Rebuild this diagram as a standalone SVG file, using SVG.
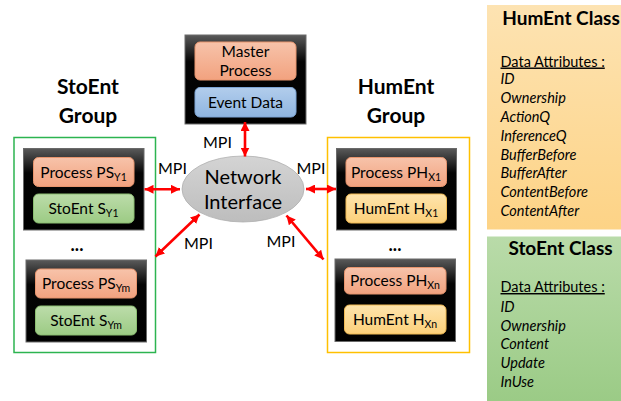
<svg xmlns="http://www.w3.org/2000/svg" width="621" height="401" viewBox="0 0 621 401">
<style>
text{font-family:Lato,"Liberation Sans",sans-serif;fill:#000}
.lbl{font-size:15.5px;text-anchor:middle}
.sub{font-size:10.5px}
.grp{font-size:21px;font-weight:bold;text-anchor:middle}
.mpi{font-size:16px;text-anchor:middle}
.net{font-size:20px;text-anchor:middle}
.ttl{font-size:19px;font-weight:bold;text-anchor:middle}
.hd{font-size:14.5px;text-decoration:underline}
.at{font-size:14.5px;font-style:italic}
.blk{fill:url(#gBlk);stroke:#6a6a6a;stroke-width:1}
.org{fill:url(#gOrg);stroke:#e8956e;stroke-width:1}
.grn{fill:url(#gGrn);stroke:#8cbf72;stroke-width:1}
.blu{fill:url(#gBlu);stroke:#7ea6d6;stroke-width:1}
.yel{fill:url(#gYel);stroke:#f2bb55;stroke-width:1}
.arr{stroke:#ff0000;stroke-width:2.6;fill:none;marker-start:url(#ah);marker-end:url(#ah)}
</style>
<defs>
<linearGradient id="gBlk" x1="0" y1="0" x2="0" y2="1"><stop offset="0" stop-color="#5a5a5a"/><stop offset="0.3" stop-color="#050505"/><stop offset="1" stop-color="#000"/></linearGradient>
<linearGradient id="gOrg" x1="0" y1="0" x2="0" y2="1"><stop offset="0" stop-color="#f7c3aa"/><stop offset="1" stop-color="#f2a27f"/></linearGradient>
<linearGradient id="gGrn" x1="0" y1="0" x2="0" y2="1"><stop offset="0" stop-color="#bcdcaa"/><stop offset="1" stop-color="#9ccb84"/></linearGradient>
<linearGradient id="gBlu" x1="0" y1="0" x2="0" y2="1"><stop offset="0" stop-color="#b2cdec"/><stop offset="1" stop-color="#8fb5e0"/></linearGradient>
<linearGradient id="gYel" x1="0" y1="0" x2="0" y2="1"><stop offset="0" stop-color="#fee4ad"/><stop offset="1" stop-color="#fcd07a"/></linearGradient>
<linearGradient id="gNet" x1="0" y1="0" x2="0" y2="1"><stop offset="0" stop-color="#d4d4d4"/><stop offset="1" stop-color="#bdbdbd"/></linearGradient>
<linearGradient id="gHumC" x1="0" y1="0" x2="0" y2="1"><stop offset="0" stop-color="#fde3b2"/><stop offset="1" stop-color="#fdd386"/></linearGradient>
<linearGradient id="gStoC" x1="0" y1="0" x2="0" y2="1"><stop offset="0" stop-color="#b9dba9"/><stop offset="1" stop-color="#9bcb86"/></linearGradient>
<marker id="ah" viewBox="0 0 10 10" refX="10" refY="5" markerWidth="9" markerHeight="9" markerUnits="userSpaceOnUse" orient="auto-start-reverse"><path d="M0,0 L10,5 L0,10 z" fill="#ff0000"/></marker>
</defs>

<!-- Master -->
<g id="master">
<rect class="blk" x="185" y="35" width="121" height="89"/>
<rect class="org" x="195" y="42" width="101" height="38" rx="5"/>
<text class="lbl" x="245.5" y="56.5">Master</text>
<text class="lbl" x="245.5" y="76">Process</text>
<rect class="blu" x="195" y="87.5" width="101" height="29.5" rx="5"/>
<text class="lbl" x="245.5" y="107.5">Event Data</text>
</g>

<!-- Group labels -->
<g id="stoent-group-label">
<text class="grp" x="88" y="94">StoEnt</text>
<text class="grp" x="88" y="123">Group</text>
</g>
<g id="hument-group-label">
<text class="grp" x="396" y="94">HumEnt</text>
<text class="grp" x="396" y="123">Group</text>
</g>

<!-- StoEnt group -->
<g id="stoent-group">
<rect x="14" y="137.5" width="141.5" height="215" fill="none" stroke="#2cb450" stroke-width="1.5"/>
<text x="77" y="251" font-size="18" font-weight="bold" text-anchor="middle" font-family="Lato,sans-serif">...</text>
</g>
<g id="stoent-y1">
<rect class="blk" x="23.5" y="148.5" width="120.5" height="81.5"/>
<rect class="org" x="33.5" y="157.5" width="100.5" height="29" rx="5"/>
<text class="lbl" x="83.5" y="177.5">Process PS<tspan class="sub" dy="3">Y1</tspan></text>
<rect class="grn" x="33.5" y="194" width="100.5" height="29" rx="5"/>
<text class="lbl" x="83.5" y="214">StoEnt S<tspan class="sub" dy="3">Y1</tspan></text>
</g>
<g id="stoent-ym">
<rect class="blk" x="26" y="260" width="120.5" height="82"/>
<rect class="org" x="35.5" y="269" width="101" height="29" rx="5"/>
<text class="lbl" x="86" y="289">Process PS<tspan class="sub" dy="3">Ym</tspan></text>
<rect class="grn" x="35.5" y="306" width="101" height="29" rx="5"/>
<text class="lbl" x="86" y="326">StoEnt S<tspan class="sub" dy="3">Ym</tspan></text>
</g>

<!-- HumEnt group -->
<g id="hument-group">
<rect x="327.5" y="137.5" width="142" height="215" fill="none" stroke="#ffc000" stroke-width="1.5"/>
<text x="395" y="251" font-size="18" font-weight="bold" text-anchor="middle" font-family="Lato,sans-serif">...</text>
</g>
<g id="hument-x1">
<rect class="blk" x="336.5" y="148.5" width="120" height="81.5"/>
<rect class="org" x="346" y="157.5" width="100.5" height="29" rx="5"/>
<text class="lbl" x="396" y="177.5">Process PH<tspan class="sub" dy="3">X1</tspan></text>
<rect class="yel" x="346" y="194" width="100.5" height="29" rx="5"/>
<text class="lbl" x="396" y="214">HumEnt H<tspan class="sub" dy="3">X1</tspan></text>
</g>
<g id="hument-xn">
<rect class="blk" x="335" y="259" width="120.5" height="82.5"/>
<rect class="org" x="344.5" y="267.5" width="101.5" height="26.5" rx="5"/>
<text class="lbl" x="395" y="286">Process PH<tspan class="sub" dy="3">Xn</tspan></text>
<rect class="yel" x="344.5" y="305" width="101.5" height="29" rx="5"/>
<text class="lbl" x="395" y="325">HumEnt H<tspan class="sub" dy="3">Xn</tspan></text>
</g>

<!-- Network interface -->
<g id="network">
<ellipse cx="243" cy="189" rx="61" ry="33" fill="url(#gNet)" stroke="#b0b0b0" stroke-width="0.8"/>
<text class="net" x="243" y="184">Network</text>
<text class="net" x="243" y="209">Interface</text>
</g>

<!-- Connectors -->
<g id="connectors">
<line class="arr" x1="245" y1="122" x2="245" y2="156.5"/>
<line class="arr" x1="144.5" y1="189.3" x2="180" y2="189.3"/>
<line class="arr" x1="306" y1="189" x2="336" y2="189"/>
<line class="arr" x1="199.5" y1="214.5" x2="155.5" y2="256.5"/>
<line class="arr" x1="286.5" y1="215.5" x2="323.5" y2="259.5"/>
<text class="mpi" x="217.5" y="147.5">MPI</text>
<text class="mpi" x="172.5" y="174">MPI</text>
<text class="mpi" x="311" y="174">MPI</text>
<text class="mpi" x="198.5" y="249">MPI</text>
<text class="mpi" x="281" y="246.5">MPI</text>
</g>

<!-- HumEnt class -->
<g id="hument-class">
<rect x="487" y="5" width="134" height="224.5" fill="url(#gHumC)"/>
<text class="ttl" x="561" y="25">HumEnt Class</text>
<text class="hd" x="500.5" y="66.5">Data Attributes :</text>
<text class="at" x="500.5" y="83.5">ID</text>
<text class="at" x="500.5" y="102.5">Ownership</text>
<text class="at" x="500.5" y="121.5">ActionQ</text>
<text class="at" x="500.5" y="140.5">InferenceQ</text>
<text class="at" x="500.5" y="159.5">BufferBefore</text>
<text class="at" x="500.5" y="178">BufferAfter</text>
<text class="at" x="500.5" y="197">ContentBefore</text>
<text class="at" x="500.5" y="215.5">ContentAfter</text>
</g>

<!-- StoEnt class -->
<g id="stoent-class">
<rect x="487" y="236.5" width="134" height="164.5" fill="url(#gStoC)"/>
<text class="ttl" x="560.5" y="255">StoEnt Class</text>
<text class="hd" x="500.5" y="292">Data Attributes :</text>
<text class="at" x="500.5" y="311.5">ID</text>
<text class="at" x="500.5" y="330.5">Ownership</text>
<text class="at" x="500.5" y="349">Content</text>
<text class="at" x="500.5" y="368">Update</text>
<text class="at" x="500.5" y="387">InUse</text>
</g>
</svg>
